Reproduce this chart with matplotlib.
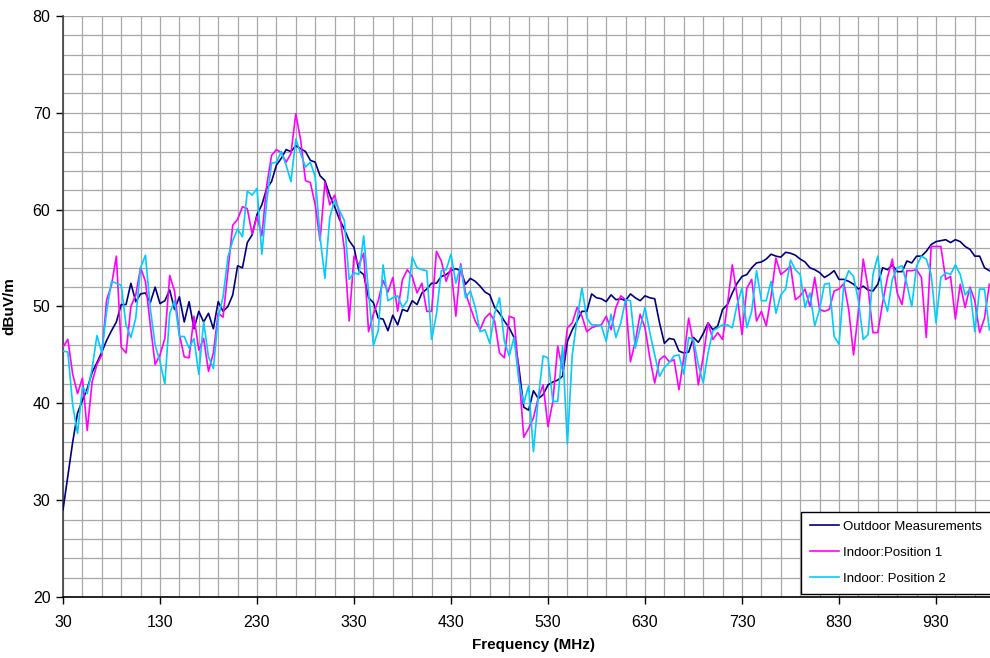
import numpy as np
import matplotlib.pyplot as plt
from matplotlib.ticker import MultipleLocator, FixedLocator

plt.rcParams['font.family'] = ['Liberation Sans', 'DejaVu Sans']

# frequencies in MHz, one sample every 5 MHz
freq = np.arange(30, 990, 5)

outdoor = [
    29.0, 32.5, 36.0, 39.0, 40.3, 41.5, 43.2, 44.2, 45.3, 46.5,
    47.5, 48.4, 50.2, 50.2, 52.4, 50.5, 51.3, 51.4, 50.4, 52.0,
    50.3, 50.6, 51.7, 49.7, 51.0, 48.4, 50.5, 47.7, 49.5, 48.4,
    49.3, 47.7, 50.5, 49.5, 50.0, 51.2, 54.2, 54.0, 56.6, 57.4,
    59.5, 60.5, 62.2, 62.9, 64.6, 65.3, 66.2, 66.0, 66.6, 66.3,
    66.0, 65.1, 64.9, 63.5, 63.0, 61.5, 60.3, 59.0, 58.0, 56.8,
    56.1, 53.7, 53.3, 50.9, 50.4, 48.8, 48.7, 47.5, 49.1, 48.1,
    49.7, 49.5, 50.6, 50.2, 51.4, 51.8, 52.4, 52.4, 53.1, 53.3,
    53.7, 53.9, 53.7, 52.3, 52.9, 52.6, 52.1, 51.5, 51.2, 49.9,
    49.3, 48.5, 47.8, 46.8, 43.7, 39.6, 39.3, 41.3, 40.5, 40.9,
    41.9, 42.2, 42.4, 42.8, 46.4, 47.6, 48.5, 49.5, 49.5, 51.3,
    50.9, 50.8, 50.5, 51.2, 50.7, 50.8, 50.6, 51.3, 50.9, 50.6,
    51.1, 50.9, 50.8, 48.3, 46.2, 46.7, 46.6, 45.4, 45.2, 45.3,
    46.8, 46.3, 47.2, 48.3, 47.6, 48.0, 49.7, 50.2, 51.4, 52.4,
    53.1, 53.3, 54.0, 54.5, 54.6, 54.9, 55.4, 55.2, 55.1, 55.6,
    55.5, 55.3, 54.9, 54.6, 54.0, 53.8, 53.5, 53.0, 53.3, 53.7,
    52.8, 52.8, 52.6, 52.3, 51.8, 52.1, 51.7, 51.6, 52.3, 54.0,
    53.8, 54.3, 53.6, 53.6, 54.7, 54.5, 55.2, 55.2, 55.7, 56.4,
    56.7, 56.8, 56.9, 56.6, 56.9, 56.7, 56.2, 55.9, 55.2, 55.2,
    54.0, 53.7,
]

indoor_pos1 = [
    45.8, 46.6, 43.0, 41.0, 42.6, 37.2, 42.2, 44.0, 45.0, 50.7,
    52.2, 55.2, 45.8, 45.2, 50.0, 51.2, 54.0, 52.6, 48.1, 44.0,
    45.0, 46.7, 53.2, 51.6, 47.1, 44.8, 44.7, 49.0, 45.5, 46.7,
    43.3, 45.2, 49.3, 48.9, 53.6, 58.4, 59.0, 60.3, 60.1, 57.5,
    59.3, 57.3, 62.5, 65.6, 66.2, 65.9, 64.9, 65.8, 69.9, 67.2,
    63.0, 62.8, 60.5, 56.8, 62.8, 60.5, 61.5, 59.6, 56.0, 48.5,
    55.2, 54.3, 55.5, 47.4, 49.2, 50.6, 52.7, 51.5, 53.0, 49.5,
    52.8, 53.8, 53.1, 51.4, 52.4, 49.5, 49.5, 55.7, 54.7, 52.6,
    54.0, 49.0, 54.4, 51.4, 49.9, 48.5, 47.6, 48.8, 49.3, 48.5,
    45.2, 44.7, 49.0, 48.8, 43.1, 36.5, 37.4, 38.5, 40.6, 41.9,
    37.6, 40.2, 45.9, 43.5, 47.8, 48.3, 49.9, 49.0, 47.4, 47.8,
    48.0, 48.1, 49.0, 47.6, 49.9, 51.1, 50.7, 44.3, 46.4, 49.2,
    47.8, 44.7, 42.1, 44.5, 44.9, 44.3, 44.5, 41.4, 44.7, 48.8,
    46.1, 41.9, 44.8, 48.3, 46.6, 47.3, 46.6, 50.2, 54.3, 51.1,
    47.1, 51.9, 52.8, 48.5, 49.5, 48.0, 51.1, 55.0, 53.3, 53.7,
    54.2, 50.7, 51.1, 51.8, 50.0, 53.0, 49.7, 49.5, 49.7, 51.6,
    51.8, 52.4, 49.7, 45.0, 49.5, 54.9, 51.9, 47.3, 47.3, 50.4,
    53.0, 54.9, 51.4, 50.2, 53.7, 53.7, 53.8, 53.0, 46.8, 56.2,
    56.2, 56.2, 52.8, 53.1, 48.7, 52.3, 49.9, 52.0, 50.6, 47.3,
    48.8, 52.3,
]

indoor_pos2 = [
    45.4, 45.3, 39.8, 36.9, 41.7, 41.0, 43.6, 47.0, 45.2, 49.5,
    52.6, 52.4, 52.2, 48.1, 46.8, 48.8, 54.0, 55.3, 49.8, 46.0,
    44.3, 42.0, 49.3, 50.6, 46.9, 46.9, 45.7, 46.7, 43.0, 48.4,
    44.8, 43.6, 48.8, 51.0, 55.1, 56.8, 58.0, 57.2, 61.9, 61.5,
    62.2, 55.4, 60.8, 64.8, 64.9, 66.0, 64.6, 62.9, 67.3, 65.8,
    64.4, 64.9, 63.4, 57.2, 52.9, 59.2, 61.0, 59.9, 58.9, 52.8,
    53.5, 53.3, 57.3, 51.5, 46.0, 47.5, 54.3, 50.6, 50.9, 51.1,
    49.9, 50.6, 55.1, 54.0, 53.8, 53.7, 46.6, 49.2, 53.7, 53.8,
    55.4, 52.4, 54.2, 50.9, 51.6, 49.9, 47.4, 47.6, 46.2, 49.3,
    50.9, 46.4, 44.9, 46.8, 42.3, 40.0, 41.8, 35.0, 40.6, 44.9,
    44.7, 40.2, 40.2, 45.9, 35.8, 45.0, 48.7, 51.9, 48.8, 48.1,
    48.1, 48.0, 46.4, 49.2, 46.8, 48.3, 50.7, 50.6, 45.7, 47.8,
    49.9, 47.3, 45.0, 42.8, 43.7, 44.2, 44.9, 45.0, 43.0, 46.8,
    46.6, 44.0, 42.1, 45.2, 47.5, 47.8, 48.1, 48.1, 47.8, 50.2,
    51.9, 47.8, 49.5, 53.7, 50.6, 50.6, 52.6, 49.3, 51.2, 51.8,
    54.8, 53.8, 53.3, 49.9, 51.4, 48.0, 49.7, 52.3, 52.4, 46.9,
    46.1, 52.3, 53.7, 53.1, 50.6, 46.6, 47.1, 53.3, 55.2, 51.2,
    49.5, 52.8, 54.0, 54.2, 52.3, 50.0, 54.2, 55.2, 54.9, 53.3,
    48.3, 53.0, 53.5, 53.3, 54.3, 53.3, 51.2, 51.8, 47.4, 51.8,
    51.8, 47.6,
]

labels = ['Outdoor Measurements', 'Indoor:Position 1', 'Indoor: Position 2']
colors = ['#000080', '#FF00FF', '#00CCFF']

fig = plt.figure(figsize=(9.9, 6.58), dpi=100)
# axes run off the right edge, like the cropped original
ax = fig.add_axes([63 / 990, 61 / 658, 940.9 / 990, 581 / 658])

for series, lab, col in zip([outdoor, indoor_pos1, indoor_pos2], labels, colors):
    ax.plot(freq, series, color=col, lw=1.2, label=lab, zorder=3)

ax.set_xlim(30, 1000)
ax.set_ylim(20, 80)
ax.xaxis.set_major_locator(FixedLocator(np.arange(30, 1000, 100)))
ax.xaxis.set_minor_locator(FixedLocator(np.arange(30, 1000, 20)))
ax.yaxis.set_major_locator(MultipleLocator(10))
ax.yaxis.set_minor_locator(MultipleLocator(2))
ax.grid(which='both', color='#A8A8A8', lw=0.9)
ax.set_axisbelow(True)

ax.spines['top'].set_visible(False)
ax.spines['right'].set_visible(False)
ax.spines['left'].set_color('#404040')
ax.spines['left'].set_linewidth(1.2)
ax.spines['bottom'].set_color('black')
ax.spines['bottom'].set_linewidth(1.2)
ax.tick_params(which='major', direction='out', length=5, width=1, labelsize=11.5)
ax.tick_params(axis='x', which='major', pad=8)
ax.tick_params(axis='y', which='major', pad=4)
ax.tick_params(which='minor', length=0)

ax.set_xlabel('Frequency (MHz)', fontsize=11, fontweight='bold', labelpad=6)
ax.set_ylabel('dBuV/m', fontsize=11, fontweight='bold', labelpad=12)

leg = ax.legend(loc='upper left', bbox_to_anchor=(801 / 990, 1 - 512 / 658),
                bbox_transform=fig.transFigure, fontsize=9.5, frameon=True,
                fancybox=False, framealpha=1, edgecolor='black',
                handlelength=2.2, labelspacing=1.05, borderpad=0.65,
                handletextpad=0.35, borderaxespad=0)
leg.get_frame().set_linewidth(1.0)

plt.savefig('out.png', dpi=100)
